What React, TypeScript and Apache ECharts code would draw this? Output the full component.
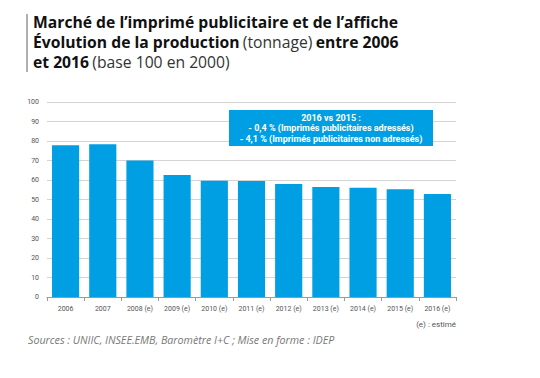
import React, { useEffect, useRef } from "react";
import * as echarts from "echarts";

const categories = ["2006", "2007", "2008 (e)", "2009 (e)", "2010 (e)", "2011 (e)", "2012 (e)", "2013 (e)", "2014 (e)", "2015 (e)", "2016 (e)"];
const values = [77.8, 78.3, 70.0, 62.6, 59.6, 59.5, 58.0, 56.4, 56.0, 55.2, 52.8];
const yTicks = [0, 10, 20, 30, 40, 50, 60, 70, 80, 90, 100];
const boxLines = ["2016 vs 2015 :", "- 0,4 % (Imprimés publicitaires adressés)", "- 4,1 % (Imprimés publicitaires non adressés)"];

const NARROW = "'Liberation Sans Narrow', 'Roboto', sans-serif";

export default function App() {
  const ref = useRef<HTMLDivElement>(null);
  useEffect(() => {
    const chart = echarts.init(ref.current!, undefined, { renderer: "svg" });
    chart.setOption({
      animation: false,
      backgroundColor: "#ffffff",
      grid: { left: 47, right: 84, top: 102, bottom: 81 },
      xAxis: {
        type: "category",
        data: categories,
        axisLine: { lineStyle: { color: "#9a9a9a", width: 1 } },
        axisTick: { show: true, length: 4, lineStyle: { color: "#9a9a9a" } },
        axisLabel: { color: "#555", fontSize: 7, fontFamily: NARROW, margin: 8, interval: 0 },
      },
      yAxis: {
        type: "value",
        min: yTicks[0],
        max: yTicks[yTicks.length - 1],
        interval: 10,
        axisLine: { show: false },
        axisTick: { show: false },
        splitLine: { lineStyle: { color: "#d4d4d4", width: 1 } },
        axisLabel: { color: "#555", fontSize: 7, fontFamily: NARROW, margin: 8 },
      },
      series: [
        {
          type: "bar",
          data: values,
          barCategoryGap: "27%",
          itemStyle: { color: "#009fe3" },
        },
      ],
      graphic: [
        { type: "rect", left: 26, top: 14, shape: { width: 2, height: 58 }, style: { fill: "#b0b0b0" } },
        {
          type: "text",
          left: 33,
          top: 14,
          style: {
            text: "{b|Marché de l\u2019imprimé publicitaire et de l\u2019affiche}\n{b|Évolution de la production} {r|(tonnage)} {b|entre 2006}\n{b|et 2016} {r|(base 100 en 2000)}",
            rich: {
              b: { fontSize: 15.7, fontWeight: "bold", fontFamily: "'Open Sans', sans-serif", fill: "#111", lineHeight: 20 },
              r: { fontSize: 15.7, fontWeight: "normal", fontFamily: "'Open Sans', sans-serif", fill: "#333", lineHeight: 20 },
            },
          },
        },
        { type: "rect", left: 229, top: 110, z: 100, shape: { width: 204, height: 36 }, style: { fill: "#009fe3" } },
        {
          type: "text",
          x: 331,
          y: 128,
          z: 101,
          style: {
            text: boxLines.join("\n"),
            fill: "#ffffff",
            fontSize: 9,
            fontWeight: "bold",
            fontFamily: "Roboto, sans-serif",
            align: "center",
            verticalAlign: "middle",
            lineHeight: 10.5,
          },
        },
        {
          type: "text",
          right: 84,
          top: 320,
          style: { text: "(e) : estimé", fill: "#555", fontSize: 8, fontFamily: NARROW },
        },
        {
          type: "text",
          left: 28,
          top: 334,
          style: {
            text: "Sources : UNIIC, INSEE.EMB, Baromètre I+C ; Mise en forme : IDEP",
            fill: "#777",
            fontSize: 10.7,
            fontStyle: "italic",
            fontFamily: "'Open Sans', sans-serif",
          },
        },
      ],
    });
    return () => chart.dispose();
  }, []);
  return <div ref={ref} style={{ width: 540, height: 378, position: "absolute", left: 0, top: 0 }} />;
}
